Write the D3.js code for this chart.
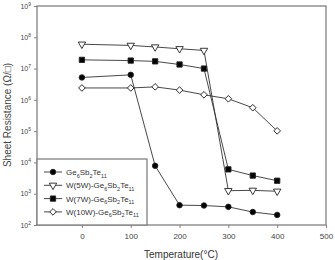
<!DOCTYPE html>
<html><head><meta charset="utf-8">
<script src="https://cdn.jsdelivr.net/npm/d3@7"></script>
<style>body{margin:0;background:#fff}svg{display:block}text{font-family:Arial,"Liberation Sans",sans-serif}</style>
</head><body>
<svg id="c" width="335" height="260"></svg>
<script>
const temps = [0, 100, 150, 200, 250, 300, 350, 400];
const seriesNames = ["Ge6Sb2Te11", "W(5W)-Ge6Sb2Te11", "W(7W)-Ge6Sb2Te11", "W(10W)-Ge6Sb2Te11"];
const gst = [5.2e6, 6.3e6, 7.8e3, 4.3e2, 4.2e2, 3.8e2, 2.6e2, 2.1e2];
const w5 = [6.0e7, 5.5e7, 4.9e7, 4.3e7, 3.8e7, 1.25e3, 1.28e3, 1.2e3];
const w7 = [1.9e7, 1.8e7, 1.7e7, 1.35e7, 1.0e7, 6.0e3, 3.8e3, 2.6e3];
const w10 = [2.4e6, 2.4e6, 2.6e6, 2.05e6, 1.45e6, 1.08e6, 5.6e5, 1.02e5];
const xTicks = [0, 100, 200, 300, 400, 500];
const yTicks = [1e2, 1e3, 1e4, 1e5, 1e6, 1e7, 1e8, 1e9];
const xTitle = "Temperature(°C)";
const yTitle = "Sheet Resistance (Ω/□)";

const svg = d3.select("#c");
const L = 37, R = 326, T = 6, B = 225;
const x = d3.scaleLinear().domain([-92, 500]).range([L, R]);
const y = d3.scaleLog().domain([1e2, 1e9]).range([B, T]);
const frameCol = "#808080";

// axes
const gx = svg.append("g").attr("transform", `translate(0,${B})`)
  .call(d3.axisBottom(x).tickValues(xTicks).tickSize(3).tickPadding(5).tickFormat(d3.format("d")));
gx.select(".domain").remove();
gx.selectAll("line").attr("stroke", frameCol);
gx.selectAll("text").attr("font-size", 8).attr("fill", "#444");

const gy = svg.append("g").attr("transform", `translate(${L},0)`)
  .call(d3.axisLeft(y).tickValues(yTicks).tickSize(3).tickPadding(3).tickFormat(d => "10"));
gy.select(".domain").remove();
gy.selectAll("line").attr("stroke", frameCol);
gy.selectAll(".tick text").each(function(d) {
  const t = d3.select(this).attr("font-size", 7).attr("fill", "#444").text(null);
  t.append("tspan").text("10");
  t.append("tspan").attr("font-size", 5).attr("dy", "-0.6em").text(Math.round(Math.log10(d)));
});

// frame
svg.append("rect").attr("x", L).attr("y", T).attr("width", R - L).attr("height", B - T)
  .attr("fill", "none").attr("stroke", frameCol).attr("stroke-width", 1.3);

// series
const series = [
  {name: seriesNames[0], vals: gst, sym: d3.symbolCircle, size: 24, fill: "#000", rot: 0},
  {name: seriesNames[1], vals: w5, sym: d3.symbolTriangle, size: 24, fill: "#fff", rot: 180},
  {name: seriesNames[2], vals: w7, sym: d3.symbolSquare, size: 28, fill: "#000", rot: 0},
  {name: seriesNames[3], vals: w10, sym: d3.symbolSquare, size: 22, fill: "#fff", rot: 45}
];
const line = d3.line().x((d, i) => x(temps[i])).y(d => y(d));
series.forEach(s => {
  svg.append("path").datum(s.vals).attr("d", line).attr("fill", "none")
    .attr("stroke", "#333").attr("stroke-width", 0.9);
});
series.forEach(s => {
  svg.append("g").selectAll("path").data(s.vals).join("path")
    .attr("d", d3.symbol().type(s.sym).size(s.size))
    .attr("transform", (d, i) => `translate(${x(temps[i])},${y(d)}) rotate(${s.rot})`)
    .attr("fill", s.fill).attr("stroke", "#222").attr("stroke-width", 0.9);
});

// legend
const lg = svg.append("g");
lg.append("rect").attr("x", L).attr("y", 159).attr("width", 110).attr("height", B - 159)
  .attr("fill", "#fff").attr("stroke", frameCol).attr("stroke-width", 1.3);
series.forEach((s, i) => {
  const yy = 172 + i * 13.3;
  lg.append("line").attr("x1", 44).attr("x2", 62).attr("y1", yy).attr("y2", yy)
    .attr("stroke", "#333").attr("stroke-width", 0.9);
  lg.append("path").attr("d", d3.symbol().type(s.sym).size(s.size)())
    .attr("transform", `translate(53,${yy}) rotate(${s.rot})`)
    .attr("fill", s.fill).attr("stroke", "#222").attr("stroke-width", 0.9);
  const t = lg.append("text").attr("x", 66).attr("y", yy + 3).attr("font-size", 8).attr("fill", "#333");
  const parts = s.name.split(/((?:Ge|Sb|Te)\d+)/).filter(p => p);
  let pendingDy = 0;
  parts.forEach(p => {
    const m = p.match(/^(Ge|Sb|Te)(\d+)$/);
    if (m) {
      t.append("tspan").attr("dy", pendingDy).text(m[1]);
      t.append("tspan").attr("font-size", 5.5).attr("dy", 2.5).text(m[2]);
      pendingDy = -2.5;
    } else {
      t.append("tspan").attr("dy", pendingDy).text(p);
      pendingDy = 0;
    }
  });
});

// titles
svg.append("text").attr("x", 181).attr("y", 258).attr("text-anchor", "middle")
  .attr("font-size", 10).attr("fill", "#333").text(xTitle);
svg.append("text").attr("transform", "translate(11,115) rotate(-90)").attr("text-anchor", "middle")
  .attr("font-size", 10).attr("fill", "#444").text(yTitle);
</script>
</body></html>
